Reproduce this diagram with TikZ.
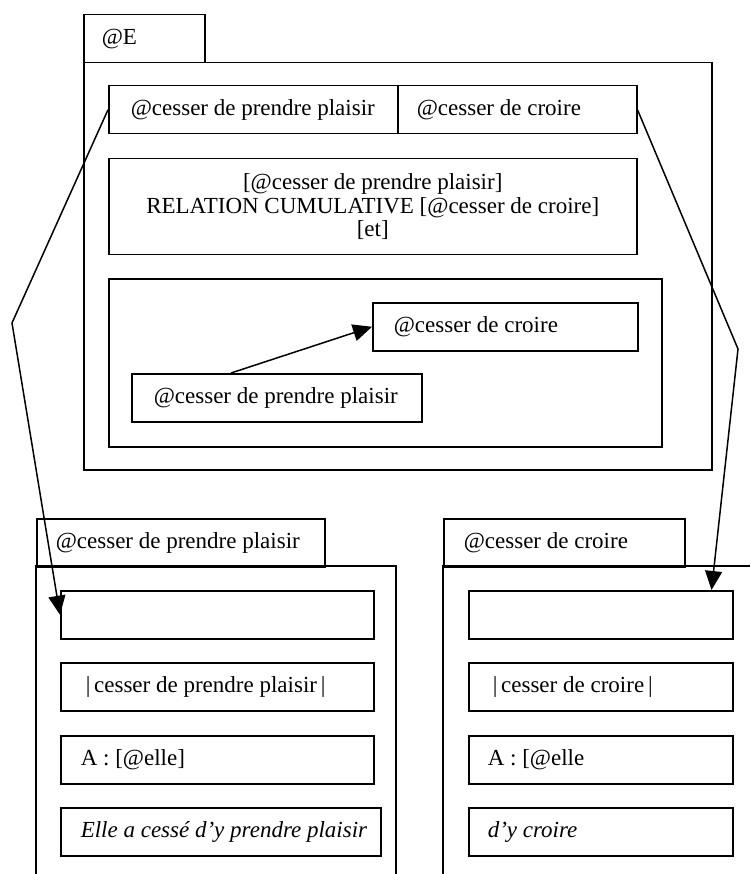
\documentclass[tikz,border=0pt]{standalone}
\usepackage{fontspec}
\setmainfont{Liberation Serif}
\usetikzlibrary{arrows.meta,positioning}

\tikzset{every picture/.style={line width=1.5pt}}
\tikzset{
	box/.style={draw, anchor=north west, inner sep=0pt, minimum height=48pt},
	txt/.style={inner sep=0pt, font=\fontsize{23}{23.5}\selectfont},
	tip/.style={-{Triangle[length=19pt,width=17pt]}}
}

\begin{document}
\begin{tikzpicture}[x=1pt,y=1pt,yscale=-1,xscale=1]
		\useasboundingbox (0,0) rectangle (750,874);

		%Shape: Rectangle [tab @E]
		\node[box, minimum width=121pt] (tabE) at (83,14) {};
		%Shape: Rectangle [frame @E]
		\node[box, minimum width=628pt, minimum height=407pt] (frameE) at (83,62) {};
		%Shape: Rectangle [head cells]
		\node[box, minimum width=289pt] (hdplaisir) at (108,85) {};
		\node[box, minimum width=239pt] (hdcroire) at (397,85) {};
		%Shape: Rectangle [relation]
		\node[box, minimum width=528pt, minimum height=96pt] (relation) at (108,158) {};
		%Shape: Rectangle [inner graph]
		\node[box, minimum width=553pt, minimum height=168pt] (inner) at (108,278) {};
		\node[box, minimum width=265pt] (incroire) at (372,302) {};
		\node[box, minimum width=290pt] (inplaisir) at (131,373) {};
		%Straight Lines [inner arrow]
		\draw[tip] ([xshift=100pt]inplaisir.north west) -- (incroire.west);

		%Shape: Rectangle [tab plaisir]
		\node[box, minimum width=288pt] (tabplaisir) at (36,518) {};
		%Straight Lines [frame plaisir]
		\draw (36,874) -- (36,566) -- (396,566) -- (396,874);
		\node[box, minimum width=313pt] (lp1) at (60,590) {};
		\node[box, minimum width=313pt] (lp2) at (60,662) {};
		\node[box, minimum width=313pt] (lp3) at (60,735) {};
		\node[box, minimum width=320pt] (lp4) at (60,807) {};

		%Shape: Rectangle [tab croire]
		\node[box, minimum width=241pt] (tabcroire) at (443,518) {};
		%Straight Lines [frame croire]
		\draw (443,874) -- (443,566) -- (750,566);
		\node[box, minimum width=264pt] (rp1) at (468,590) {};
		\node[box, minimum width=264pt] (rp2) at (468,662) {};
		\node[box, minimum width=264pt] (rp3) at (468,735) {};
		\node[box, minimum width=264pt] (rp4) at (468,807) {};

		%Straight Lines [links]
		\coordinate (lbend) at (12,323);
		\coordinate (rbend) at (738,349);
		\draw[tip] (hdplaisir.west) -- (lbend) -- (lp1.west);
		\draw[tip] (hdcroire.east) -- (rbend) -- ([xshift=-22pt]rp1.north east);

		% Text Node
		\node[txt, right=18pt of tabE.west] (tabEtext) {@E};
		% Text Node
		\node[txt, right=22pt of hdplaisir.west] (hdplaisirtext) {@cesser de prendre plaisir};
		% Text Node
		\node[txt, right=19pt of hdcroire.west] (hdcroiretext) {@cesser de croire};
		% Text Node
		\node[txt, align=center] (relationtext) at (relation.center) {[@cesser de prendre plaisir]\\RELATION CUMULATIVE [@cesser de croire]\\{[et]}};
		% Text Node
		\node[txt, right=21pt of incroire.west] (incroiretext) {@cesser de croire};
		% Text Node
		\node[txt, right=22pt of inplaisir.west] (inplaisirtext) {@cesser de prendre plaisir};
		% Text Node
		\node[txt, right=19pt of tabplaisir.west] (tabplaisirtext) {@cesser de prendre plaisir};
		% Text Node
		\node[txt, right=25pt of lp2.west] (lp2text) {\textbar\,cesser de prendre plaisir\,\textbar};
		% Text Node
		\node[txt, right=20pt of lp3.west] (lp3text) {A : [@elle]};
		% Text Node
		\node[txt, right=20pt of lp4.west] (lp4text) {\textit{Elle a cessé d’y prendre plaisir}};
		% Text Node
		\node[txt, right=20pt of tabcroire.west] (tabcroiretext) {@cesser de croire};
		% Text Node
		\node[txt, right=24pt of rp2.west] (rp2text) {\textbar\,cesser de croire\,\textbar};
		% Text Node
		\node[txt, right=19pt of rp3.west] (rp3text) {A : [@elle};
		% Text Node
		\node[txt, right=19pt of rp4.west] (rp4text) {\textit{d’y croire}};
\end{tikzpicture}
\end{document}
